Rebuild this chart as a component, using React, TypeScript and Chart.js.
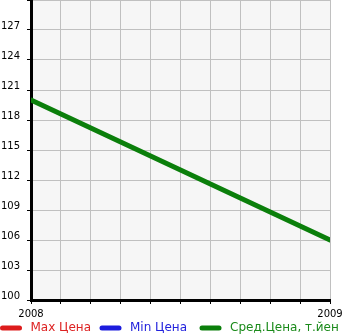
import React, { useEffect, useRef } from "react";
import { Chart, registerables } from "chart.js";

Chart.register(...registerables);

const years = [2008, 2009];
const avgPrices = [120, 106];
const maxPrices: number[] = [];
const minPrices: number[] = [];
const seriesNames = ["Max Цена", "Min Цена", "Сред.Цена, т.йен"];
const seriesColors = ["#dd1c1c", "#1c1cdd", "#0b7f0b"];
const textColors = ["#dd2222", "#2222dd", "#1a8a1a"];

const bgPlugin = {
  id: "bgPlugin",
  beforeDraw(chart: any) {
    const { ctx, chartArea } = chart;
    ctx.save();
    ctx.fillStyle = "#f6f6f6";
    ctx.fillRect(chartArea.left, chartArea.top, chartArea.right - chartArea.left, chartArea.bottom - chartArea.top);
    ctx.restore();
  },
};

const legendStarts = [0, 99.5, 199.5];

const legendPlugin = {
  id: "customLegend",
  afterDraw(chart: any) {
    const { ctx } = chart;
    ctx.save();
    ctx.font = '12px "DejaVu Sans"';
    ctx.textBaseline = "middle";
    ctx.textAlign = "left";
    const y = 328;
    chart.data.datasets.forEach((ds: any, i: number) => {
      const x = legendStarts[i];
      ctx.strokeStyle = ds.borderColor;
      ctx.lineWidth = 5;
      ctx.lineCap = "round";
      ctx.beginPath();
      ctx.moveTo(x + 2.5, y);
      ctx.lineTo(x + 19.5, y);
      ctx.stroke();
      ctx.fillStyle = textColors[i];
      ctx.fillText(ds.label, x + 30.5, y);
    });
    ctx.restore();
  },
};

export default function App() {
  const ref = useRef<HTMLCanvasElement | null>(null);
  useEffect(() => {
    if (!ref.current) return;
    const chart = new Chart(ref.current, {
      type: "line",
      data: {
        datasets: [
          {
            label: seriesNames[0],
            data: maxPrices.map((v, i) => ({ x: years[i], y: v })),
            borderColor: seriesColors[0],
            backgroundColor: seriesColors[0],
            borderWidth: 5,
            pointRadius: 0,
          },
          {
            label: seriesNames[1],
            data: minPrices.map((v, i) => ({ x: years[i], y: v })),
            borderColor: seriesColors[1],
            backgroundColor: seriesColors[1],
            borderWidth: 5,
            pointRadius: 0,
          },
          {
            label: seriesNames[2],
            data: avgPrices.map((v, i) => ({ x: years[i], y: v })),
            borderColor: seriesColors[2],
            backgroundColor: seriesColors[2],
            borderWidth: 5,
            pointRadius: 0,
            borderCapStyle: "round",
          },
        ],
      },
      options: {
        animation: false,
        responsive: true,
        maintainAspectRatio: false,
        layout: { padding: { left: 1, right: 15, top: 0, bottom: 0 } },
        plugins: {
          legend: { display: false },
          tooltip: { enabled: false },
        },
        scales: {
          x: {
            type: "linear",
            min: years[0],
            max: years[years.length - 1],
            afterFit: (s: any) => {
              s.height = 35;
              s.paddingLeft = 0;
              s.paddingRight = 0;
            },
            ticks: {
              stepSize: 0.1,
              autoSkip: false,
              maxRotation: 0,
              minRotation: 0,
              padding: 4,
              color: "#000",
              font: { family: '"DejaVu Sans"', size: 10 },
              callback: (v: any) => {
                const n = Number(v);
                return Math.abs(n - Math.round(n)) < 1e-6 ? String(Math.round(n)) : "";
              },
            },
            grid: { color: "#c0c0c0", lineWidth: 1, tickColor: "#000", tickLength: 4 },
            border: { color: "#000", width: 3 },
          },
          y: {
            min: 100,
            max: 130,
            afterFit: (s: any) => {
              s.width = 30;
              s.paddingTop = 0;
              s.paddingBottom = 0;
            },
            ticks: {
              stepSize: 3,
              crossAlign: "far",
              labelOffset: -4,
              color: "#000",
              font: { family: '"DejaVu Sans"', size: 10 },
              callback: (v: any) => (Number(v) >= 130 ? "" : String(v)),
            },
            grid: { color: "#c0c0c0", lineWidth: 1, tickColor: "#000", tickLength: 4 },
            border: { color: "#000", width: 3 },
          },
        },
      },
      plugins: [bgPlugin, legendPlugin],
    } as any);
    return () => chart.destroy();
  }, []);
  return (
    <div style={{ position: "fixed", left: 0, top: 0, width: 345, height: 335, background: "#fff" }}>
      <canvas ref={ref} />
    </div>
  );
}
